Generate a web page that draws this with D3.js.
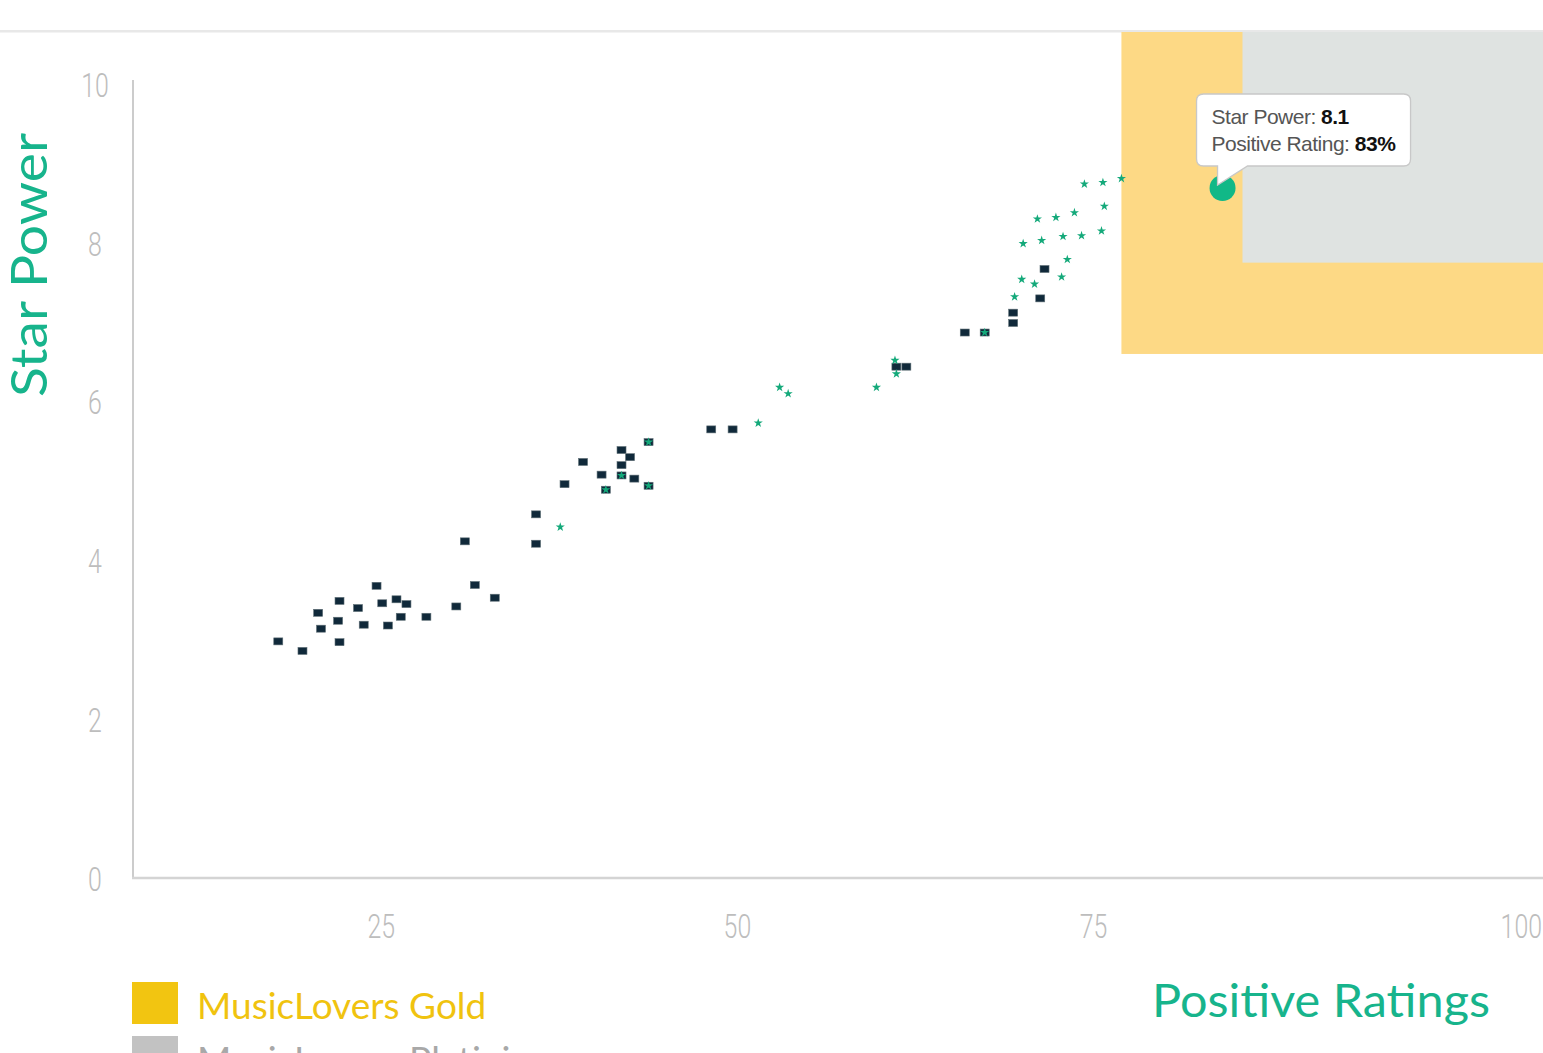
<!DOCTYPE html>
<html>
<head>
<meta charset="utf-8">
<script src="https://cdn.jsdelivr.net/npm/d3@7"></script>
<style>
  html, body { margin: 0; padding: 0; background: #fff; overflow: hidden; }
  svg { display: block; }
  .tick-label { font-family: "Roboto", "Liberation Sans", sans-serif; fill: #bdbdbd; font-size: 34px; font-weight: 300; }
  .title { font-family: "Lato", "Noto Sans", sans-serif; fill: #17b48c; }
</style>
</head>
<body>
<svg id="chart" width="1543" height="1053"></svg>
<script>
// rating (%) and star power of the regular titles (squares)
const squareRatings = [17.8, 19.5, 20.6, 20.8, 22.1, 22.0, 22.1, 23.4, 23.8, 24.7, 25.1, 26.1, 26.8, 25.5, 26.4, 28.2, 30.3, 31.6, 33.0,
  30.9, 35.9, 35.9, 37.9, 39.2, 40.5, 40.8, 41.9, 42.5, 41.9, 41.9, 42.8, 43.8, 43.8, 48.2, 49.7,
  61.2, 61.9, 66.0, 67.4, 69.4, 69.4, 71.3, 71.6];
const squarePower = [2.98, 2.86, 3.34, 3.14, 3.49, 3.24, 2.97, 3.40, 3.19, 3.68, 3.46, 3.51, 3.45, 3.18, 3.29, 3.29, 3.42, 3.69, 3.53,
  4.24, 4.58, 4.21, 4.96, 5.24, 5.08, 4.89, 5.39, 5.30, 5.20, 5.07, 5.03, 5.49, 4.94, 5.65, 5.65,
  6.44, 6.44, 6.87, 6.87, 7.12, 6.99, 7.30, 7.67];

// rating (%) and star power of the starred titles
const starRatings = [40.8, 41.9, 43.8, 43.8, 37.6, 51.5, 53.0, 53.6, 59.8, 61.1, 61.2, 67.4,
  69.5, 70.0, 70.9, 72.8, 73.2, 70.1, 71.4, 72.9, 74.2, 75.6, 71.1, 72.4, 73.7, 75.8, 74.4, 75.7, 77.0];
const starPower = [4.89, 5.07, 5.49, 4.94, 4.42, 5.73, 6.18, 6.10, 6.18, 6.52, 6.35, 6.87,
  7.32, 7.54, 7.48, 7.57, 7.79, 7.99, 8.03, 8.08, 8.09, 8.15, 8.30, 8.32, 8.38, 8.46, 8.74, 8.76, 8.81];

// highlighted title and its tooltip
const highlight = { rating: 84.1, power: 8.69 };
const tooltipLines = [["Star Power: ", "8.1"], ["Positive Rating: ", "83%"]];

// membership zones: min rating / min star power
const zoneNames = ["MusicLovers Gold", "MusicLovers Platinium"];
const zoneRating = [77.0, 85.5];
const zonePower = [6.6, 7.75];
const zoneFill = ["#fdd985", "#dfe3e1"];
const legendSwatch = ["#f2c511", "#c2c2c2"];
const legendText = ["#f0c30f", "#a8a8a8"];

const xTicks = [25, 50, 75, 100];
const yTicks = [0, 2, 4, 6, 8, 10];

const W = 1543, H = 1053;
const plot = { left: 133, right: 1543, top: 32, bottom: 878 };

const svg = d3.select('#chart');

const x = d3.scaleLinear().domain([7.6, 106.6]).range([plot.left, plot.right]);
const y = d3.scaleLinear().domain([0, 10]).range([plot.bottom, 84]);

// header separator
svg.append('rect')
    .attr('x', 0).attr('y', 30).attr('width', W).attr('height', 2.5)
    .attr('fill', '#e8e8e8');

// zones
svg.append('g').selectAll('rect')
    .data(zoneNames)
    .join('rect')
    .attr('x', (d, i) => x(zoneRating[i]))
    .attr('y', plot.top)
    .attr('width', (d, i) => W - x(zoneRating[i]))
    .attr('height', (d, i) => y(zonePower[i]) - plot.top)
    .attr('fill', (d, i) => zoneFill[i]);

// narrow, light tick labels
function styleTicks(sel) {
    sel.attr('class', 'tick-label').attr('fill', null).attr('font-size', null).attr('font-family', null)
        .attr('textLength', function() { return this.textContent.length * 13.8; })
        .attr('lengthAdjust', 'spacingAndGlyphs');
}

// axes
const xAxis = svg.append('g')
    .attr('transform', `translate(0,${plot.bottom})`)
    .call(d3.axisBottom(x).tickValues(xTicks).tickSize(0).tickPadding(36));
xAxis.select('.domain').remove();
xAxis.selectAll('text').call(styleTicks);
// last label sits flush with the right edge
xAxis.selectAll('.tick').filter(d => d === 100)
    .attr('transform', `translate(${W - 1},0)`)
    .select('text').attr('text-anchor', 'end');

const yAxis = svg.append('g')
    .attr('transform', `translate(${plot.left},0)`)
    .call(d3.axisLeft(y).tickValues(yTicks).tickSize(0).tickPadding(38));
yAxis.select('.domain').remove();
yAxis.selectAll('text').call(styleTicks);
yAxis.selectAll('text').attr('text-anchor', 'middle').attr('dy', '0.36em');

svg.append('line')
    .attr('x1', plot.left).attr('x2', plot.left)
    .attr('y1', y(10) - 4).attr('y2', plot.bottom)
    .attr('stroke', '#cccccc').attr('stroke-width', 2);
svg.append('line')
    .attr('x1', plot.left - 1).attr('x2', plot.right)
    .attr('y1', plot.bottom).attr('y2', plot.bottom)
    .attr('stroke', '#d4d4d4').attr('stroke-width', 2.5);

// squares
svg.append('g').selectAll('rect')
    .data(squareRatings)
    .join('rect')
    .attr('x', d => x(d) - 4.5)
    .attr('y', (d, i) => y(squarePower[i]) - 3.5)
    .attr('width', 9)
    .attr('height', 7)
    .attr('fill', '#10293a')
    .attr('stroke', '#5f6f76')
    .attr('stroke-width', 0.6);

// stars
const star = d3.symbol().type(d3.symbolStar).size(26);
svg.append('g').selectAll('path')
    .data(starRatings)
    .join('path')
    .attr('d', star)
    .attr('transform', (d, i) => `translate(${x(d)},${y(starPower[i])})`)
    .attr('fill', '#14a97a');

// highlighted point + tooltip
const hx = x(highlight.rating), hy = y(highlight.power);
svg.append('circle')
    .attr('cx', hx).attr('cy', hy).attr('r', 13)
    .attr('fill', '#11b887');

const tip = svg.append('g').attr('transform', `translate(${hx - 26},${hy - 94})`);
const tw = 214, th = 72, r = 7;
tip.append('path')
    .attr('d', `M${r},0 H${tw - r} Q${tw},0 ${tw},${r} V${th - r} Q${tw},${th} ${tw - r},${th}
      H51 L21,${th + 19} V${th} H${r} Q0,${th} 0,${th - r} V${r} Q0,0 ${r},0 Z`)
    .attr('fill', '#fff')
    .attr('stroke', '#c8c8c8')
    .attr('stroke-width', 1.3);
tip.selectAll('text')
    .data(tooltipLines)
    .join('text')
    .attr('x', 15)
    .attr('y', (d, i) => 30 + i * 27)
    .attr('font-family', '"Liberation Sans", Arial, sans-serif')
    .attr('font-size', 21)
    .attr('letter-spacing', -0.5)
    .each(function(d) {
        const t = d3.select(this);
        t.append('tspan').attr('fill', '#555').text(d[0]);
        t.append('tspan').attr('fill', '#111').attr('font-weight', 'bold').text(d[1]);
    });

// axis titles
svg.append('text')
    .attr('class', 'title')
    .attr('transform', `translate(47,${(133 + 397) / 2}) rotate(-90)`)
    .attr('text-anchor', 'middle')
    .attr('font-size', 50)
    .attr('textLength', 264)
    .attr('lengthAdjust', 'spacingAndGlyphs')
    .text('Star Power');

svg.append('text')
    .attr('class', 'title')
    .attr('x', 1152).attr('y', 1017)
    .attr('font-size', 46)
    .attr('textLength', 338)
    .attr('lengthAdjust', 'spacingAndGlyphs')
    .text('Positive Ratings');

// legend
const legend = svg.append('g').attr('transform', 'translate(132,982)')
    .selectAll('g')
    .data(zoneNames)
    .join('g')
    .attr('transform', (d, i) => `translate(0,${i * 54})`);
legend.append('rect')
    .attr('width', 46).attr('height', 42)
    .attr('fill', (d, i) => legendSwatch[i]);
legend.append('text')
    .attr('x', 65).attr('y', 37)
    .attr('font-family', '"Lato", "Noto Sans", sans-serif')
    .attr('font-size', 37)
    .attr('fill', (d, i) => legendText[i])
    .text(d => d);
</script>
</body>
</html>
